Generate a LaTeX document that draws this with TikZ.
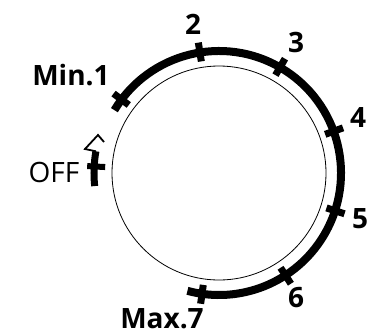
\documentclass[tikz,border=0pt]{standalone}
\usepackage{fontspec}
\setmainfont{Open Sans}
\usetikzlibrary{positioning}
\definecolor{dialink}{RGB}{0,0,0}
\tikzstyle{dialarc}=[line width=8pt, draw=dialink]
\tikzstyle{dialtick}=[line width=7pt, draw=dialink]
\tikzstyle{lbl}=[inner sep=0pt, text=dialink, font=\fontsize{28}{30}\selectfont\bfseries]
\tikzstyle{offlbl}=[inner sep=0pt, text=dialink, font=\fontsize{28}{30}\selectfont]

\begin{document}
\begin{tikzpicture}[x=1pt, y=1pt]
        \useasboundingbox (-219,-162) rectangle (152,173);
        \coordinate (c) at (0,0);
        % knob
        \draw[line width=0.8pt] (c) circle (107);
        % scale
        \draw[dialarc] (149:122) arc (149:-105:122);
        \foreach \a in {143,99,60,20,-18,-57,-98}
          \draw[dialtick] (\a:113) -- (\a:132);
        % off mark
        \draw[line width=7pt] (170:125) arc (170:186:125);
        \draw[line width=6pt] (177:114) -- (177:132);
        \draw[line width=1.8pt, line join=miter] (170:125) -- (-134,24) -- (-121,38) -- (-115,31);
        % labels
        \node[lbl] (s1) at (-148,98) {Min.1};
        \node[lbl] (s2) at (-26,149) {2};
        \node[lbl] (s3) at (77,131) {3};
        \node[lbl] (s4) at (139,55) {4};
        \node[lbl] (s5) at (141,-46) {5};
        \node[lbl] (s6) at (77,-125) {6};
        \node[lbl] (s7) at (-57,-146) {Max.7};
        \node[offlbl] (off) at (-165,1) {OFF};
      \end{tikzpicture}
\end{document}
